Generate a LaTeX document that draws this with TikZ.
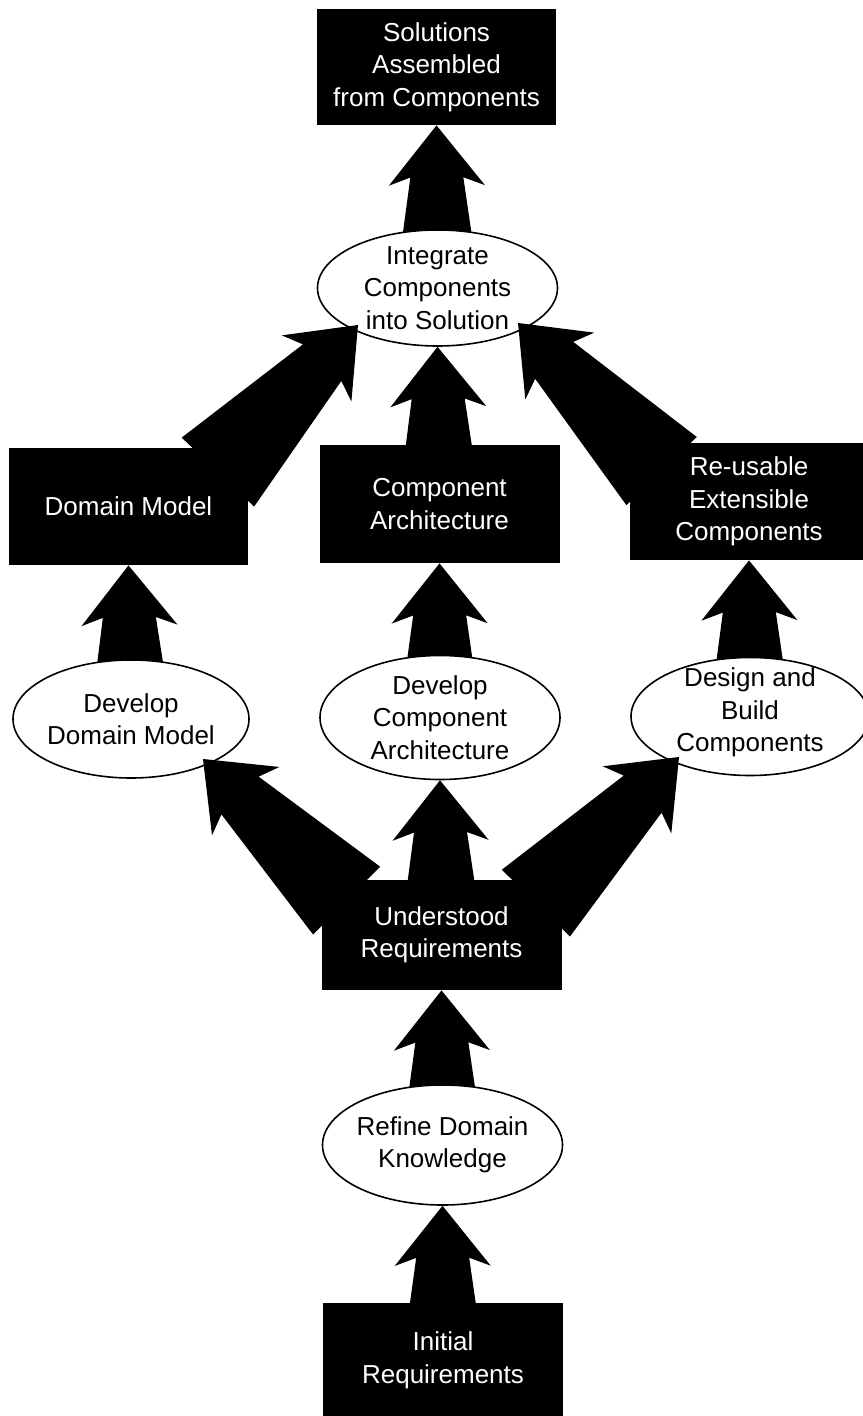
\documentclass[tikz,border=0pt]{standalone}
\usepackage{fontspec}
\setmainfont{Liberation Sans}
\usetikzlibrary{calc,shapes.geometric}

% drawing order: arrows leaving ovals, ovals, arrows entering ovals, black boxes
\pgfdeclarelayer{back}
\pgfdeclarelayer{ovals}
\pgfdeclarelayer{mid}
\pgfsetlayers{back,ovals,mid,main}

% block arrow with a tapered shaft: #1 base point, #2 tip, #3 half width at the base
\newcommand{\fatarrow}[3]{%
  \fill[arrowfill] (#2)
    -- ($(#2)!30pt!(#1)!24pt!90:(#1)$)
    -- ($(#2)!26pt!(#1)!13.25pt!90:(#1)$)
    -- ($(#1)!#3!-90:(#2)$)
    -- ($(#1)!#3!90:(#2)$)
    -- ($(#2)!26pt!(#1)!13.25pt!-90:(#1)$)
    -- ($(#2)!30pt!(#1)!24pt!-90:(#1)$)
    -- cycle;}

\begin{document}
\begin{tikzpicture}[x=0.5pt,y=-0.5pt,
  txt/.style={font=\fontsize{13}{16.25}\selectfont, align=center},
  result/.style={txt, rectangle, fill=black, text=white, inner sep=0pt,
                 minimum width=120pt, minimum height=58.5pt},
  activity/.style={ellipse, draw=black, line width=0.8pt, fill=white, inner sep=0pt},
  caption/.style={txt, text=black, inner sep=0pt},
  arrowfill/.style={fill=black}]
\useasboundingbox (0,0) rectangle (862,1416);

% results (black boxes)
\node[result, minimum width=119.5pt, minimum height=58pt] (T) at (436.5,67) {Solutions\\Assembled\\from Components};
\node[result, minimum width=119.5pt] (D) at (128.5,506.5) {Domain Model};
\node[result, minimum height=59pt] (C) at (439.5,504) {Component\\Architecture};
\node[result, minimum width=119pt] (Rb) at (749,501.5) {Re-usable\\Extensible\\Components};
\node[result, minimum height=55pt] (U) at (441.5,935) {Understood\\Requirements};
\node[result, minimum height=57.5pt] (N) at (443,1360.5) {Initial\\Requirements};

% activities (ovals)
\begin{pgfonlayer}{ovals}
\node[activity, minimum width=120pt, minimum height=58pt] (I) at (437.5,288) {};
\node[caption] (It) at (I) {Integrate\\Components\\into Solution};
\node[activity, minimum width=118pt, minimum height=59pt] (E1) at (131,719) {};
\node[caption] (E1t) at (E1) {Develop\\Domain Model};
\node[activity, minimum width=120pt, minimum height=62pt] (E2) at (440,717.5) {};
\node[caption] (E2t) at (E2) {Develop\\Component\\Architecture};
\node[activity, minimum width=119pt, minimum height=59pt] (E3) at (750,716.5) {};
\node[caption] (E3t) at ($(E3)+(0,-4)$) {Design and\\Build\\Components};
\node[activity, minimum width=120pt, minimum height=60pt] (R) at (442.5,1145) {};
\node[caption] (Rt) at (R) {Refine Domain\\Knowledge};
\end{pgfonlayer}

% ends of the slanted arrows
\coordinate (uL)  at ($(U.north west)+(25.5,21)$);
\coordinate (uLt) at ($(E1.center)+(72,40)$);
\coordinate (uR)  at ($(U.north east)+(-26,23.5)$);
\coordinate (uRt) at ($(E3.center)+(-71,40.5)$);
\coordinate (dB)  at ($(D.north east)+(-30.5,24.5)$);
\coordinate (dT)  at ($(I.center)+(-79.5,37)$);
\coordinate (rB)  at ($(Rb.north west)+(32,28.5)$);
\coordinate (rT)  at ($(I.center)+(80.5,35)$);

% arrows leaving an oval (behind it)
\begin{pgfonlayer}{back}
\fatarrow{I.center}{T.south}{21pt}
\fatarrow{E1.center}{D.south}{20.4pt}
\fatarrow{E2.center}{C.south}{20.4pt}
\fatarrow{E3.center}{Rb.south}{20.5pt}
\fatarrow{R.center}{U.south}{20.5pt}
\end{pgfonlayer}

% arrows entering an oval (over it, under the boxes)
\begin{pgfonlayer}{mid}
\fatarrow{N.center}{R.south}{20.5pt}
\fatarrow{U.center}{E2.south}{20.5pt}
\fatarrow{uL}{uLt}{23.85pt}
\fatarrow{uR}{uRt}{23.85pt}
\fatarrow{C.center}{I.south}{20.6pt}
\fatarrow{dB}{dT}{25pt}
\fatarrow{rB}{rT}{24.5pt}
\end{pgfonlayer}
\end{tikzpicture}
\end{document}
